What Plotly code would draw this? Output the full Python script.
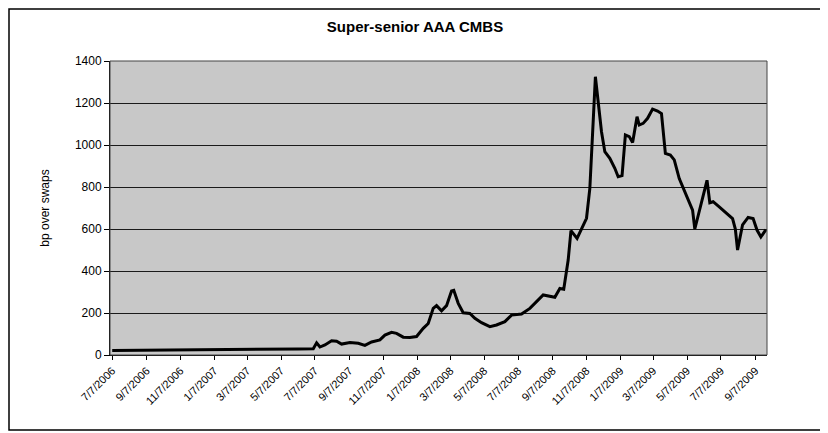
import plotly.graph_objects as go

# ---- data ----
dates = [
    "2006-07-07", "2006-10-07", "2007-01-07", "2007-04-07", "2007-06-07",
    "2007-07-04", "2007-07-10", "2007-07-16", "2007-07-25", "2007-08-06",
    "2007-08-15", "2007-08-24", "2007-09-08", "2007-09-23", "2007-10-05",
    "2007-10-17", "2007-11-01", "2007-11-10", "2007-11-22", "2007-12-01",
    "2007-12-13", "2007-12-25", "2008-01-06", "2008-01-18", "2008-01-27",
    "2008-02-05", "2008-02-11", "2008-02-20", "2008-02-29", "2008-03-09",
    "2008-03-13", "2008-03-21", "2008-03-30", "2008-04-11", "2008-04-20",
    "2008-05-02", "2008-05-17", "2008-05-29", "2008-06-13", "2008-06-25",
    "2008-07-13", "2008-07-28", "2008-08-21", "2008-09-11", "2008-09-20",
    "2008-09-27", "2008-10-05", "2008-10-10", "2008-10-21", "2008-11-07",
    "2008-11-13", "2008-11-19", "2008-11-23", "2008-11-28", "2008-12-04",
    "2008-12-10", "2008-12-19", "2008-12-28", "2009-01-03", "2009-01-10",
    "2009-01-16", "2009-01-23", "2009-01-29", "2009-02-06", "2009-02-10",
    "2009-02-17", "2009-02-25", "2009-03-06", "2009-03-15", "2009-03-22",
    "2009-03-29", "2009-04-07", "2009-04-14", "2009-04-23", "2009-05-04",
    "2009-05-14", "2009-05-17", "2009-05-21", "2009-05-29", "2009-06-12",
    "2009-06-17", "2009-06-23", "2009-07-04", "2009-07-17", "2009-07-28",
    "2009-08-02", "2009-08-06", "2009-08-15", "2009-08-25", "2009-09-03",
    "2009-09-10", "2009-09-17", "2009-09-26",
]
spread_bp = [
    22, 23, 25, 27, 29,
    30, 58, 38, 48, 68,
    66, 52, 59, 56, 46,
    62, 72, 95, 108, 103,
    85, 83, 88, 127, 150,
    222, 235, 210, 235, 305,
    308, 246, 201, 198, 175,
    154, 135, 143, 159, 190,
    195, 222, 286, 275, 317,
    313, 452, 592, 555, 651,
    793, 1111, 1325, 1206, 1063,
    968, 937, 889, 849, 854,
    1048, 1040, 1012, 1135, 1095,
    1103, 1127, 1171, 1162, 1150,
    960, 952, 929, 840, 770,
    706, 690, 600, 690, 832,
    725, 730, 705, 675, 650,
    600, 500, 620, 655, 650,
    595, 562, 597,
]
tick_dates = [
    "2006-07-07", "2006-09-07", "2006-11-07", "2007-01-07", "2007-03-07",
    "2007-05-07", "2007-07-07", "2007-09-07", "2007-11-07", "2008-01-07",
    "2008-03-07", "2008-05-07", "2008-07-07", "2008-09-07", "2008-11-07",
    "2009-01-07", "2009-03-07", "2009-05-07", "2009-07-07", "2009-09-07",
]
tick_labels = [
    "7/7/2006", "9/7/2006", "11/7/2006", "1/7/2007", "3/7/2007",
    "5/7/2007", "7/7/2007", "9/7/2007", "11/7/2007", "1/7/2008",
    "3/7/2008", "5/7/2008", "7/7/2008", "9/7/2008", "11/7/2008",
    "1/7/2009", "3/7/2009", "5/7/2009", "7/7/2009", "9/7/2009",
]
y_ticks = [0, 200, 400, 600, 800, 1000, 1200, 1400]

FONT = "Liberation Sans Narrow, Arial Narrow, Liberation Sans, Arial, sans-serif"

fig = go.Figure()
fig.add_trace(go.Scatter(
    x=dates, y=spread_bp, mode="lines",
    line=dict(color="#000000", width=3),
    showlegend=False, hoverinfo="x+y",
))

# page has an 8px body margin, so the figure is sized to fit the window
W, H = 820, 425
L, R, T, B = 102, 61, 53, 78
pw, ph = W - L - R, H - T - B

fig.update_layout(
    width=W, height=H,
    margin=dict(l=L, r=R, t=T, b=B),
    paper_bgcolor="#ffffff",
    plot_bgcolor="#c8c8c8",
    font=dict(family=FONT, size=11, color="#000000"),
    title=dict(text="<b>Super-senior AAA CMBS</b>", x=(415 - 8) / W, xref="container",
               xanchor="center", y=1 - 19 / H, yanchor="middle",
               font=dict(family=FONT, size=15, color="#000000")),
    xaxis=dict(
        type="date",
        range=["2006-07-03", "2009-09-28"],
        tickmode="array", tickvals=tick_dates, ticktext=tick_labels,
        tickangle=-45, ticks="outside", ticklen=4, tickcolor="#000000",
        showgrid=False, showline=True, linecolor="#000000", linewidth=1,
        tickfont=dict(family=FONT, size=11, color="#000000"),
        zeroline=False,
    ),
    yaxis=dict(
        range=[0, 1400],
        tickmode="array", tickvals=y_ticks,
        ticks="outside", ticklen=5, tickcolor="#000000",
        showgrid=True, gridcolor="#1a1a1a", gridwidth=1,
        showline=True, linecolor="#000000", linewidth=1,
        zeroline=False,
        tickfont=dict(family=FONT, size=12, color="#000000"),
        title=dict(text="bp over swaps", standoff=22,
                   font=dict(family=FONT, size=12, color="#000000")),
    ),
    shapes=[
        # plot area frame
        dict(type="rect", xref="paper", yref="paper", x0=0, x1=1, y0=0, y1=1,
             line=dict(color="#444444", width=1), fillcolor="rgba(0,0,0,0)",
             layer="above"),
        # chart area border
        dict(type="rect", xref="paper", yref="paper",
             x0=(1 - L) / pw, x1=(816 - L) / pw,
             y0=(H - B - 422) / ph, y1=(H - B - 1) / ph,
             line=dict(color="#000000", width=1.5), fillcolor="rgba(0,0,0,0)"),
    ],
)

fig.write_html("out.html")
